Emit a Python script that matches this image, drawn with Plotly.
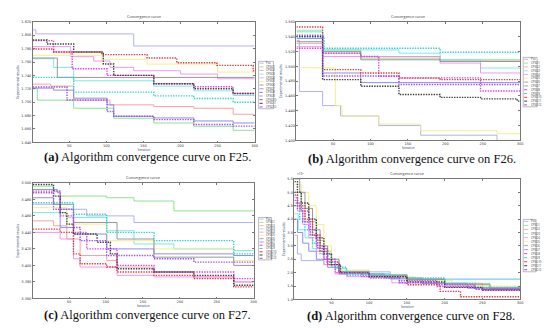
import plotly.graph_objects as go

MAX_ITER = 300
NAMES = ["Pso"] + [f"CPSO{i}" for i in range(1, 13)]
COLORS = ["#a9a9ee", "#7fe07f", "#f59a9a", "#6fe6e6", "#f08cf0", "#eeee80", "#8c8c8c",
          "#8080ee", "#e040e0", "#30d0d0", "#e03c3c", "#3c3c3c", "#a050e8"]
DOTTED = [False] * 8 + [True] * 5

# ---- F25 ----
F25_ITERS = [
    [1, 5, 137],
    [1, 7, 56, 110, 164, 218, 271],
    [1, 25, 56, 105, 164, 218, 271],
    [1, 29, 56, 164, 218, 271],
    [1, 52, 83, 105, 137, 200, 250],
    [1, 94, 155, 250],
    [1, 34],
    [1, 29, 56, 101, 110, 164, 218, 271],
    [1, 29, 54, 101, 164, 218, 271],
    [1, 56, 164, 218, 271],
    [1, 29, 94, 155, 195, 249, 298],
    [1, 20, 56, 96, 110, 164, 218, 271],
    [1, 47, 101, 110, 164, 218, 271],
]
F25_VALUES = [
    [1.808, 1.802, 1.784],
    [1.720, 1.703, 1.691, 1.676, 1.669, 1.664, 1.658],
    [1.727, 1.724, 1.703, 1.696, 1.6935, 1.691, 1.682],
    [1.765, 1.752, 1.732, 1.724, 1.717, 1.710],
    [1.783, 1.768, 1.7615, 1.752, 1.747, 1.742, 1.735],
    [1.770, 1.764, 1.757, 1.745],
    [1.766, 1.737],
    [1.721, 1.718, 1.706, 1.696, 1.679, 1.6765, 1.672, 1.669],
    [1.792, 1.775, 1.750, 1.740, 1.7275, 1.723, 1.713],
    [1.737, 1.715, 1.7095, 1.7056, 1.700],
    [1.7795, 1.775, 1.771, 1.766, 1.759, 1.755, 1.747],
    [1.793, 1.787, 1.775, 1.757, 1.740, 1.7275, 1.720, 1.713],
    [1.7226, 1.7032, 1.686, 1.679, 1.674, 1.6667, 1.6643],
]

# ---- F26 ----
F26_ITERS = [
    [1, 5, 36, 60, 111, 167, 269],
    [1, 36, 87, 193],
    [1, 36, 87, 193],
    [1, 36, 138, 193, 247],
    [1, 36, 193, 247],
    [1, 53, 62, 111, 167, 269],
    [1, 36, 87, 193],
    [1, 36, 87],
    [1, 36, 87, 111, 138, 247],
    [1, 38, 193],
    [1, 36, 87, 138, 193],
    [1, 36, 87, 138, 193, 247, 296],
    [1, 36, 138],
]
F26_VALUES = [
    [1.535, 1.466, 1.447, 1.433, 1.420, 1.407, 1.400],
    [1.5465, 1.5221, 1.511, 1.5088],
    [1.531, 1.5177, 1.5132, 1.507],
    [1.5487, 1.5221, 1.5177, 1.5088, 1.4977],
    [1.5265, 1.5132, 1.5043, 1.491],
    [1.498, 1.447, 1.433, 1.422, 1.413, 1.409],
    [1.5332, 1.5199, 1.5088, 1.5066],
    [1.5376, 1.491, 1.478],
    [1.5243, 1.5177, 1.5132, 1.4866, 1.4844, 1.4666],
    [1.5399, 1.5243, 1.519],
    [1.553, 1.4955, 1.491, 1.484, 1.482],
    [1.540, 1.482, 1.473, 1.462, 1.458, 1.456, 1.453],
    [1.542, 1.487, 1.4755],
]

# ---- F27 ----
F27_ITERS = [
    [1, 38, 74, 138],
    [1, 29, 38, 101, 138, 192],
    [1, 29, 47, 65, 101, 115, 165, 219, 273],
    [1, 47, 101, 138, 192, 273],
    [1, 38, 56, 65, 115, 165, 273],
    [1, 47, 101, 165, 273],
    [1, 29, 56, 115, 165, 273],
    [1, 34, 38, 56, 101, 165, 273],
    [1, 38, 56, 74, 115, 165, 273],
    [1, 56, 101, 165, 273],
    [1, 38, 56, 65, 101, 115, 165, 219, 273],
    [1, 29, 38, 47, 56, 88, 106, 115, 165, 219, 273],
    [1, 29, 56, 65, 101, 165, 219],
]
F27_VALUES = [
    [3.474, 3.468, 3.460, 3.452],
    [3.496, 3.490, 3.484, 3.482, 3.478, 3.466],
    [3.454, 3.448, 3.432, 3.412, 3.406, 3.398, 3.392, 3.386, 3.380],
    [3.464, 3.458, 3.442, 3.426, 3.420, 3.418],
    [3.440, 3.432, 3.408, 3.398, 3.388, 3.386, 3.380],
    [3.470, 3.450, 3.430, 3.420, 3.406],
    [3.482, 3.474, 3.452, 3.432, 3.410, 3.400],
    [3.492, 3.488, 3.446, 3.438, 3.420, 3.414, 3.412],
    [3.490, 3.460, 3.440, 3.420, 3.400, 3.392, 3.384],
    [3.476, 3.462, 3.440, 3.430, 3.414],
    [3.444, 3.440, 3.414, 3.402, 3.398, 3.392, 3.388, 3.384, 3.374],
    [3.498, 3.484, 3.464, 3.450, 3.438, 3.428, 3.414, 3.396, 3.392, 3.388, 3.376],
    [3.488, 3.468, 3.446, 3.430, 3.412, 3.408, 3.404],
]

# ---- F28 ----
F28_ITERS = [
    [1, 5, 10, 40, 60, 128],
    [1, 10, 20, 30, 40, 50, 62, 100, 150, 200, 260],
    [1, 8, 15, 25, 35, 45, 60, 90, 150, 200, 250],
    [1, 6, 15, 25, 40, 55, 70, 128, 200],
    [1, 5, 12, 20, 30, 40, 55, 70, 130, 200],
    [1, 10, 20, 30, 40, 50, 60, 100, 160, 210],
    [1, 8, 15, 25, 35, 45, 60, 100, 150, 200, 260],
    [1, 5, 12, 20, 30, 45, 60, 120, 170, 230],
    [1, 5, 10, 20, 30, 40, 55, 90, 140, 190, 240],
    [1, 8, 15, 25, 35, 50, 70, 150, 200, 240],
    [1, 5, 15, 25, 35, 45, 60, 100, 150, 194, 221],
    [1, 5, 10, 20, 30, 40, 50, 62, 100, 150, 200, 250],
    [1, 5, 12, 22, 32, 44, 60, 100, 140, 190, 240],
]
F28_VALUES = [
    [3.4, 2.7, 2.45, 2.3, 2.03, 1.76],
    [5.0, 4.4, 3.9, 3.2, 2.8, 2.3, 2.0, 1.9, 1.72, 1.6, 1.45],
    [4.6, 4.3, 3.9, 3.4, 2.9, 2.4, 2.0, 1.92, 1.75, 1.6, 1.33],
    [4.2, 3.6, 3.3, 2.9, 2.5, 2.15, 1.97, 1.78, 1.75],
    [4.8, 4.3, 3.8, 3.3, 2.8, 2.3, 1.95, 1.85, 1.62, 1.45],
    [5.3, 5.0, 4.5, 3.8, 3.0, 2.5, 2.1, 1.85, 1.7, 1.5],
    [5.5, 5.0, 4.4, 3.6, 3.0, 2.5, 2.05, 1.9, 1.75, 1.55, 1.4],
    [4.0, 3.5, 3.1, 2.8, 2.5, 2.2, 1.95, 1.8, 1.6, 1.42],
    [5.0, 4.6, 4.3, 3.6, 3.0, 2.5, 2.0, 1.85, 1.7, 1.55, 1.38],
    [4.5, 4.0, 3.6, 3.1, 2.7, 2.2, 1.9, 1.8, 1.6, 1.45],
    [4.9, 4.5, 4.0, 3.4, 2.8, 2.3, 2.0, 1.85, 1.55, 1.30, 1.10],
    [5.4, 5.0, 4.6, 4.0, 3.3, 2.7, 2.3, 2.0, 1.85, 1.65, 1.45, 1.35],
    [4.7, 4.4, 3.9, 3.4, 2.9, 2.4, 2.0, 1.8, 1.62, 1.48, 1.38],
]

X_TICKS = [50, 100, 150, 200, 250, 300]

W, H = 550, 328


def px_x(p):
    return p / W


def px_y(p):
    return 1 - p / H


PANELS = [
    dict(iters=F25_ITERS, vals=F25_VALUES, box=(25, 248, 12, 134), yr=(1.64, 1.82), dt=0.02, fmt=".3f",
         leg=(252, 267, 52, 100), cap="<b>(a)</b> Algorithm convergence curve on F25.", capy=149),
    dict(iters=F26_ITERS, vals=F26_VALUES, box=(290, 515, 12, 132), yr=(1.40, 1.56), dt=0.02, fmt=".3f",
         leg=(518, 532, 48, 98), cap="<b>(b)</b> Algorithm convergence curve on F26.", capy=151),
    dict(iters=F27_ITERS, vals=F27_VALUES, box=(25, 247, 175, 292), yr=(3.36, 3.50), dt=0.02, fmt=".3f",
         leg=(252, 265, 210, 253), cap="<b>(c)</b> Algorithm convergence curve on F27.", capy=309),
    dict(iters=F28_ITERS, vals=F28_VALUES, box=(288, 515, 171, 293), yr=(1.0, 5.5), dt=0.5, fmt=".1f",
         leg=(518, 531, 212, 265), cap="<b>(d)</b> Algorithm convergence curve on F28.", capy=310),
]

fig = go.Figure()
shapes, annos = [], []
layout = {}
for k, P in enumerate(PANELS):
    idx = "" if k == 0 else str(k + 1)
    xa, ya = "x" + idx, "y" + idx
    for i in range(13):
        xs = list(P["iters"][i]) + [MAX_ITER]
        ys = list(P["vals"][i]) + [P["vals"][i][-1]]
        fig.add_trace(go.Scatter(
            x=xs, y=ys, mode="lines", line_shape="hv", xaxis=xa, yaxis=ya, showlegend=False,
            name=NAMES[i],
            line=dict(color=COLORS[i], width=1.4 if DOTTED[i] else 0.9,
                      dash="1.4px,1.2px" if DOTTED[i] else "solid")))
    x0, x1, y0, y1 = P["box"]
    axstyle = dict(showgrid=False, zeroline=False, showline=True, mirror="ticks", linecolor="#777",
                   linewidth=0.6, ticks="inside", ticklen=2, tickcolor="#777", tickwidth=0.5,
                   tickfont=dict(size=3.5, color="#333", family="DejaVu Sans"))
    layout["xaxis" + idx] = dict(domain=[px_x(x0), px_x(x1)], range=[1, MAX_ITER], tickvals=X_TICKS,
                                 anchor=ya, title=dict(text="Iteration", font=dict(size=3.2), standoff=0),
                                 **axstyle)
    layout["yaxis" + idx] = dict(domain=[px_y(y1), px_y(y0)], range=list(P["yr"]), dtick=P["dt"],
                                 tickformat=P["fmt"], anchor=xa,
                                 title=dict(text="Experimental results", font=dict(size=3.5), standoff=2),
                                 **axstyle)
    # title
    annos.append(dict(text="Convergence curve", x=px_x((x0 + x1) / 2), y=px_y(y0 - 1), xref="paper",
                      yref="paper", showarrow=False, xanchor="center", yanchor="bottom",
                      font=dict(size=3.8, color="#333")))
    # caption
    annos.append(dict(text=P["cap"], x=px_x((x0 + x1) / 2 + 4), y=px_y(P["capy"]), xref="paper", yref="paper",
                      showarrow=False, xanchor="center", yanchor="middle",
                      font=dict(size=12.5, family="Liberation Serif", color="#111")))
    # legend
    lx0, lx1, ly0, ly1 = P["leg"]
    shapes.append(dict(type="rect", xref="paper", yref="paper", x0=px_x(lx0), x1=px_x(lx1), y0=px_y(ly1),
                       y1=px_y(ly0), line=dict(color="#777", width=0.5), fillcolor="white"))
    step = (ly1 - ly0) / 13
    for i in range(13):
        yy = ly0 + step * (i + 0.5)
        shapes.append(dict(type="line", xref="paper", yref="paper", x0=px_x(lx0 + 1), x1=px_x(lx0 + 5),
                           y0=px_y(yy), y1=px_y(yy),
                           line=dict(color=COLORS[i], width=1 if DOTTED[i] else 0.8,
                                     dash="dot" if DOTTED[i] else "solid")))
        annos.append(dict(text=NAMES[i], x=px_x(lx0 + 5.5), y=px_y(yy), xref="paper", yref="paper",
                          showarrow=False, xanchor="left", yanchor="middle", font=dict(size=2.8, color="#333")))

annos.append(dict(text="×10<sup>4</sup>", x=px_x(289), y=px_y(170), xref="paper", yref="paper",
                  showarrow=False, xanchor="left", yanchor="bottom", font=dict(size=3.2, color="#333")))

fig.update_layout(width=W, height=H, margin=dict(l=0, r=0, t=0, b=0), paper_bgcolor="white",
                  plot_bgcolor="white", shapes=shapes, annotations=annos, showlegend=False, **layout)
fig.write_html("out.html")
